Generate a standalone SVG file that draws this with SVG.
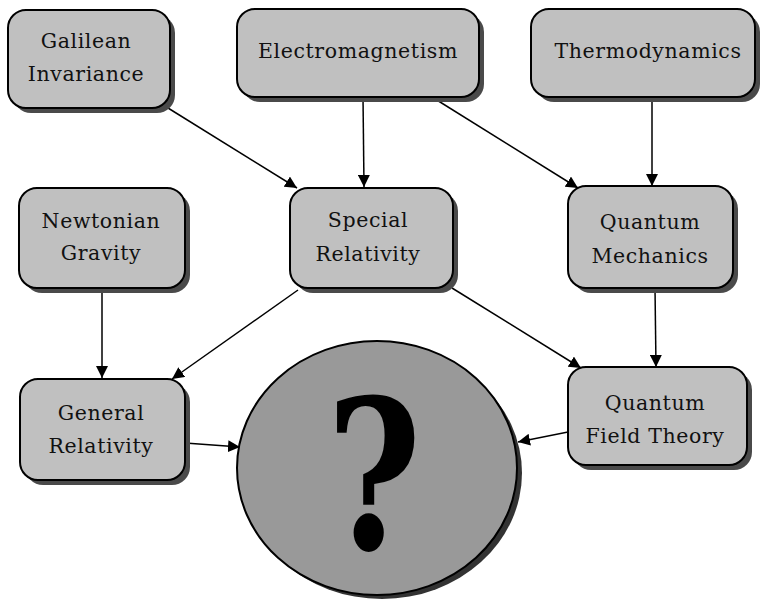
<svg xmlns="http://www.w3.org/2000/svg" width="766" height="599" viewBox="0 0 766 599">
<defs>
<marker id="ah" viewBox="0 0 10 10" refX="10" refY="5" markerWidth="12" markerHeight="12" markerUnits="userSpaceOnUse" orient="auto">
<path d="M0,0 L10,5 L0,10 z" fill="#000"/>
</marker>
</defs>
<style>
.sh{fill:#4a4a4a;}
.box{fill:#c0c0c0;stroke:#000;stroke-width:2;}
.t{font-family:"DejaVu Serif","Liberation Serif",serif;font-size:20.5px;letter-spacing:0.6px;fill:#111;text-anchor:middle;}
.e{stroke:#000;stroke-width:1.5;fill:none;marker-end:url(#ah);}
</style>
<rect width="766" height="599" fill="#fff"/>
<g id="connectors">
<line class="e" x1="168" y1="108" x2="297" y2="188"/>
<line class="e" x1="363" y1="97" x2="364" y2="187"/>
<line class="e" x1="432" y1="97" x2="578" y2="188"/>
<line class="e" x1="652" y1="97" x2="652" y2="186"/>
<line class="e" x1="102" y1="288" x2="102" y2="378"/>
<line class="e" x1="298" y1="290" x2="172" y2="379"/>
<line class="e" x1="452" y1="288" x2="581" y2="368"/>
<line class="e" x1="655" y1="288" x2="656" y2="367"/>
<line class="e" x1="185" y1="443" x2="240" y2="447"/>
<line class="e" x1="568" y1="432" x2="518" y2="442"/>
</g>
<g id="galilean">
<rect class="sh" x="13" y="15" width="162" height="98" rx="18"/>
<rect class="box" x="8" y="10" width="162" height="98" rx="18"/>
<text class="t" x="86" y="48">Galilean</text>
<text class="t" x="86" y="81">Invariance</text>
</g>
<g id="electromagnetism">
<rect class="sh" x="242" y="14" width="242" height="88" rx="18"/>
<rect class="box" x="237" y="9" width="242" height="88" rx="18"/>
<text class="t" x="358" y="58">Electromagnetism</text>
</g>
<g id="thermodynamics">
<rect class="sh" x="536" y="14" width="224" height="88" rx="18"/>
<rect class="box" x="531" y="9" width="224" height="88" rx="18"/>
<text class="t" x="648" y="58">Thermodynamics</text>
</g>
<g id="newtonian">
<rect class="sh" x="24" y="193" width="166" height="100" rx="18"/>
<rect class="box" x="19" y="188" width="166" height="100" rx="18"/>
<text class="t" x="101" y="228">Newtonian</text>
<text class="t" x="101" y="260">Gravity</text>
</g>
<g id="special">
<rect class="sh" x="295" y="193" width="163" height="100" rx="18"/>
<rect class="box" x="290" y="188" width="163" height="100" rx="18"/>
<text class="t" x="368" y="227">Special</text>
<text class="t" x="368" y="261">Relativity</text>
</g>
<g id="qm">
<rect class="sh" x="573" y="191" width="165" height="102" rx="18"/>
<rect class="box" x="568" y="186" width="165" height="102" rx="18"/>
<text class="t" x="650" y="229">Quantum</text>
<text class="t" x="650" y="263">Mechanics</text>
</g>
<g id="general">
<rect class="sh" x="25" y="384" width="165" height="101" rx="18"/>
<rect class="box" x="20" y="379" width="165" height="101" rx="18"/>
<text class="t" x="101" y="420">General</text>
<text class="t" x="101" y="453">Relativity</text>
</g>
<g id="qft">
<rect class="sh" x="573" y="372" width="179" height="98" rx="18"/>
<rect class="box" x="568" y="367" width="179" height="98" rx="18"/>
<text class="t" x="655" y="410">Quantum</text>
<text class="t" x="655" y="443">Field Theory</text>
</g>
<g id="unknown">
<ellipse cx="382" cy="473" rx="140" ry="126" fill="#333"/>
<ellipse cx="377" cy="468" rx="140" ry="127" fill="#999" stroke="#000" stroke-width="2"/>
<text transform="translate(374,549) scale(0.78,1)" x="0" y="0" font-family="DejaVu Serif, serif" font-weight="bold" font-size="208" text-anchor="middle" fill="#000">?</text>
</g>
</svg>
